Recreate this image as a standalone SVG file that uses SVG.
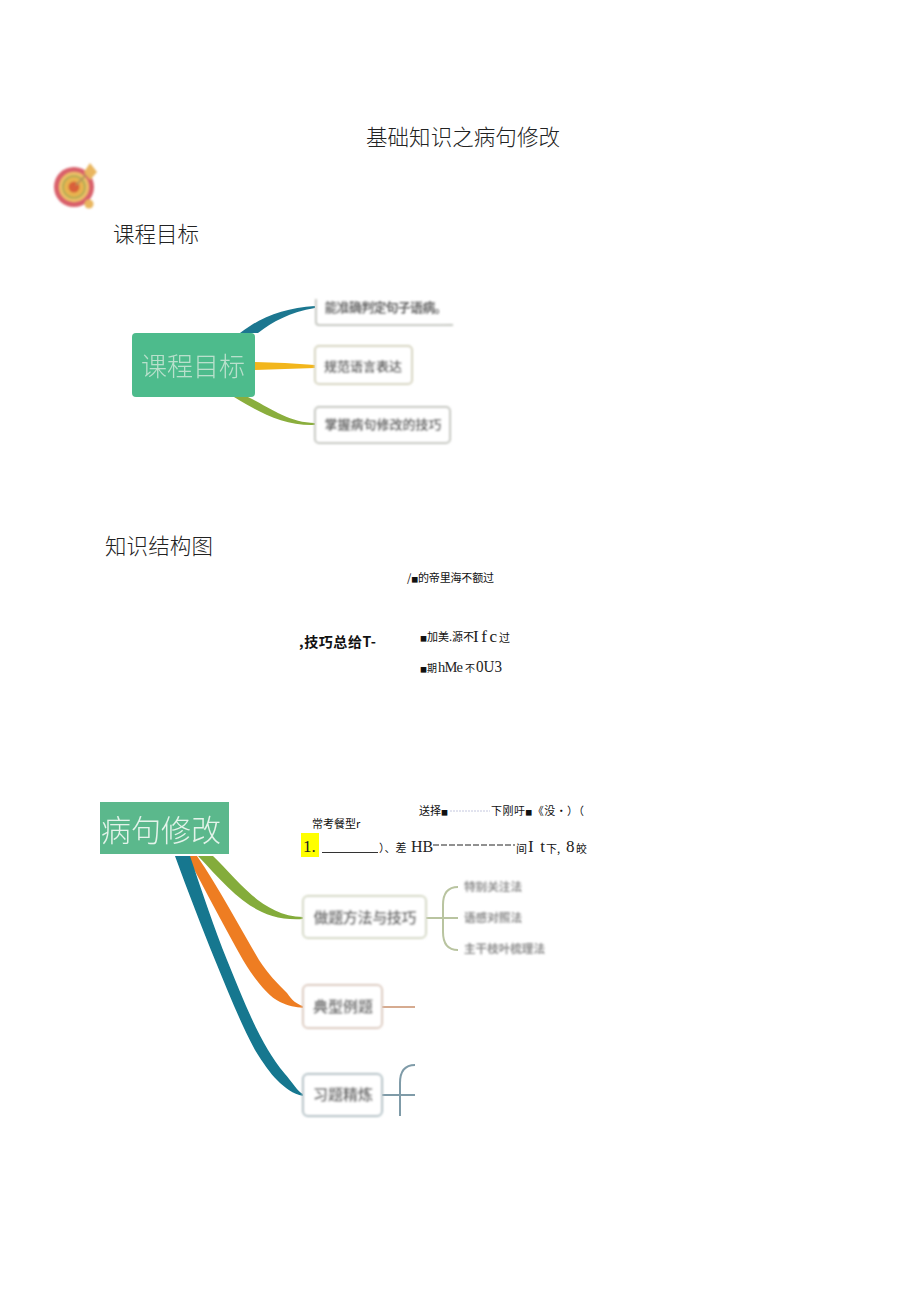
<svg xmlns="http://www.w3.org/2000/svg" width="920" height="1301" viewBox="0 0 920 1301">
<style>
text{font-family:"Noto Sans CJK SC","Noto Sans",sans-serif;fill:#111}
.h{font-size:21.5px;font-weight:300;fill:#222}
.s{font-size:11px}
.q{font-size:7px}
.r{font-family:"Liberation Serif",serif;font-size:17px;fill:#222}
.n{fill:#fff;stroke:#c4c6c0;stroke-width:2}
.t{font-size:13px;font-weight:700;fill:#666;text-anchor:middle}
.b{font-size:15px;font-weight:700;fill:#757575;text-anchor:middle}
.l{font-size:11.6px;font-weight:700;fill:#8e8e8e}
.w{fill:#e4f3ea;text-anchor:middle}
.o{fill:none;stroke-width:2}
</style>
<defs>
<filter id="f" x="-10%" y="-10%" width="120%" height="120%"><feGaussianBlur stdDeviation="1"/></filter>
<filter id="h" x="-10%" y="-10%" width="120%" height="120%"><feGaussianBlur stdDeviation="0.5"/></filter>
</defs>
<rect width="920" height="1301" fill="#fff"/>

<g id="headings">
<text class="h" x="366" y="145" textLength="194">基础知识之病句修改</text>
<text class="h" x="113" y="242" textLength="86">课程目标</text>
<text class="h" x="105" y="554" textLength="108">知识结构图</text>
</g>

<g id="target-icon" filter="url(#f)">
<circle cx="74" cy="187" r="20" fill="#d9606a"/>
<circle cx="74" cy="187" r="15" fill="#eec067"/>
<circle cx="74" cy="187" r="11" fill="#e8b350" stroke="#b4ac55" stroke-width="2"/>
<circle cx="74" cy="187" r="5.500" fill="#d9603a"/>
<path d="M76 185L89 172" stroke="#b8945a" stroke-width="2"/>
<path d="M90 163L97 172L90 180L84 172Z" fill="#e9b65e"/>
<circle cx="89" cy="204" r="4.500" fill="#e9b65e"/>
</g>

<g id="connectors-goals" filter="url(#h)">
<path d="M240 333C262 316 285 308 315 306V308C290 312 272 322 258 333Z" fill="#1b7790"/>
<path d="M255 362L285 363L315 365V368L285 369L255 370Z" fill="#f2b61c"/>
<path d="M234 397H248C270 408 290 423 315 423V425C285 426 262 414 234 397Z" fill="#8aae3c"/>
</g>
<g id="goal-root" filter="url(#h)">
<rect x="132" y="333" width="123" height="64" rx="4" fill="#4dbb8c"/>
<text class="w" x="193" y="376" font-size="26" font-weight="300" style="fill:#b9e0cc">课程目标</text>
</g>
<g id="goal-1" filter="url(#f)">
<path class="n" d="M316 299V322Q316 325 319 325H453"/>
<text class="t" x="386" y="312" textLength="123">能准确判定句子语病。</text>
</g>
<g id="goal-2" filter="url(#f)">
<rect class="n" x="315" y="346" width="97" height="38" rx="4" style="stroke:#d6d4bf"/>
<text class="t" x="363" y="371">规范语言表达</text>
</g>
<g id="goal-3" filter="url(#f)">
<rect class="n" x="315" y="407" width="135" height="36" rx="4"/>
<text class="t" x="383" y="429">掌握病句修改的技巧</text>
</g>

<g id="structure-text">
<text class="s" x="407" y="582" textLength="87">/<tspan class="q">■</tspan>的帝里海不额过</text>
<text x="299" y="647" font-size="14" font-weight="700" textLength="77">,技巧总给T-</text>
<text class="s" x="420" y="641"><tspan class="q">■</tspan>加美.源不</text>
<text class="r" x="473" y="642" textLength="24">Ifc</text>
<text class="s" x="499" y="642">过</text>
<text class="s" x="420" y="672" style="font-size:10px"><tspan class="q">■</tspan>期</text>
<text class="r" x="438" y="672" style="font-size:14.500px" textLength="25">hMe</text>
<text class="s" x="465" y="672" style="font-size:10px">不</text>
<text class="r" x="476" y="672" textLength="26" lengthAdjust="spacingAndGlyphs">0U3</text>
</g>

<g id="connectors-main" filter="url(#h)">
<path d="M198 856H213C238 880 262 916 303 917V919C255 922 232 892 198 856Z" fill="#84ac3a"/>
<path d="M187 856C205 890 225 928 243 960C255 980 268 996 280 1002C288 1006 296 1007 303 1008V1006C296 1004 292 1000 287 993C278 984 268 974 259 960C240 928 219 888 197 856Z" fill="#ee7d22"/>
<path d="M175 856C188 892 203 930 215 960C228 992 241 1024 255 1050C263 1063 270 1073 277 1080C285 1088 293 1094 303 1096V1094C298 1092 292 1082 285 1074C278 1066 273 1058 268 1050C253 1025 240 992 227 960C215 930 202 892 190 856Z" fill="#12778f"/>
<path class="o" d="M426 918H458M458 887C448 887 443 893 443 905V932C443 944 448 950 458 950" stroke="#b9c4a0"/>
<path class="o" d="M382 1007H415" stroke="#d6ab90"/>
<path class="o" d="M382 1095H415M415 1065C405 1065 400 1071 400 1083V1116" stroke="#7f9ba8"/>
</g>

<g id="main-root">
<rect x="100" y="802" width="129" height="52" fill="#5bb88c"/>
<text class="w" x="161" y="841" font-size="30" font-weight="300" filter="url(#h)">病句修改</text>
</g>
<g id="node-method" filter="url(#f)">
<rect class="n" x="303" y="896" width="123" height="42" rx="5" style="stroke:#d4d8c4"/>
<text class="b" x="365" y="923" textLength="103">做题方法与技巧</text>
</g>
<g id="node-example" filter="url(#f)">
<rect class="n" x="303" y="985" width="79" height="43" rx="5" style="stroke:#dcc9bd"/>
<text class="b" x="343" y="1012" textLength="60">典型例题</text>
</g>
<g id="node-practice" filter="url(#f)">
<rect class="n" x="303" y="1074" width="79" height="42" rx="5" style="stroke:#b0bfc4"/>
<text class="b" x="343" y="1100" textLength="60">习题精炼</text>
</g>
<g id="leaf-1" filter="url(#f)"><text class="l" x="464" y="891" textLength="58">特别关注法</text></g>
<g id="leaf-2" filter="url(#f)"><text class="l" x="464" y="922" textLength="58">语感对照法</text></g>
<g id="leaf-3" filter="url(#f)"><text class="l" x="464" y="953" textLength="81">主干枝叶梳理法</text></g>

<g id="question-text">
<text class="s" x="419" y="815">送择<tspan class="q">■</tspan></text>
<line x1="450" y1="811" x2="490" y2="811" stroke="#c4c7de" stroke-dasharray="2 1"/>
<text class="s" x="491" y="815" textLength="93">下刚吁<tspan class="q">■</tspan>《没·）（</text>
<text class="s" x="312" y="828">常考餐型r</text>
<rect x="301" y="833" width="18" height="24" fill="#ffff00"/>
<text class="r" x="303" y="852">1.</text>
<line x1="322" y1="852.500" x2="378" y2="852.500" stroke="#333"/>
<text class="s" x="379" y="852">）、差</text>
<text class="r" x="411" y="852" style="font-size:16px">HB</text>
<line x1="433" y1="845" x2="515" y2="845" stroke="#222" stroke-dasharray="6 2"/>
<text class="s" x="516" y="853">间</text>
<text class="r" x="528" y="852" textLength="17">It</text>
<text class="s" x="546" y="853">下,</text>
<text class="r" x="566" y="852">8</text>
<text class="s" x="576" y="853">皎</text>
</g>
</svg>
